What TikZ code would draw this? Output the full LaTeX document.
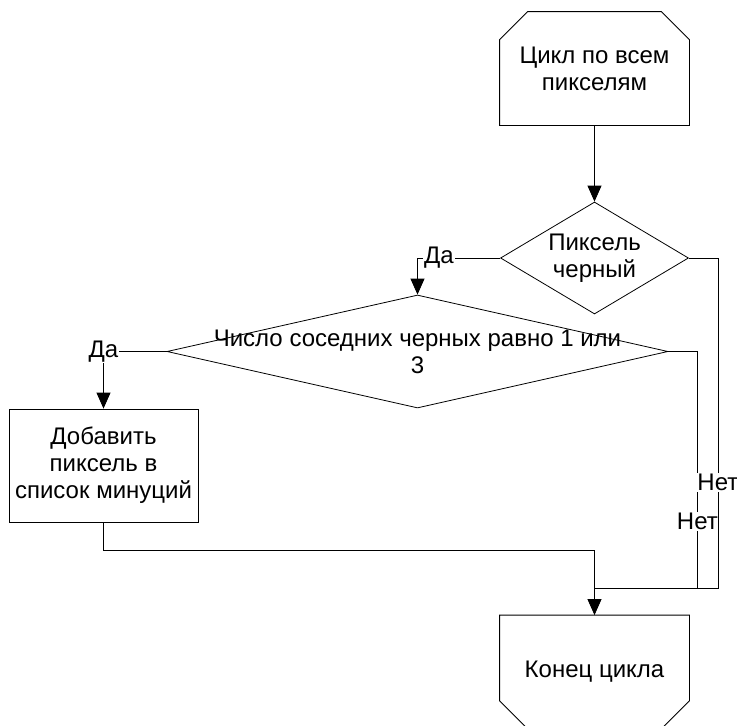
\documentclass[tikz,border=0pt]{standalone}
\usepackage{fontspec}
\setmainfont{Liberation Sans}
\usetikzlibrary{shapes.geometric,arrows.meta}

\begin{document}
\begin{tikzpicture}[x=1pt, y=-1pt, line width=0.8pt,
    every node/.style={font=\fontsize{24}{27}\selectfont},
    blk/.style={rectangle, minimum width=189pt, minimum height=113pt, align=center, inner sep=0pt},
    cond/.style={diamond, draw, aspect=1.7, inner sep=0pt, align=center},
    lbl/.style={fill=white, inner sep=1pt},
    flow/.style={-{Triangle[length=16pt,width=14pt]}}]
    \useasboundingbox (0,0) rectangle (737,726);

    \node[blk] (start) at (594.5,68.5) {Цикл по всем\\пикселям};
    \draw (start.south west) -- ([yshift=-28pt]start.north west) -- ([xshift=28pt]start.north west)
        -- ([xshift=-28pt]start.north east) -- ([yshift=-28pt]start.north east) -- (start.south east) -- cycle;

    \node[cond, minimum width=188pt, minimum height=112pt] (pix) at (594.5,258) {Пиксель\\черный};
    \node[cond, aspect=4.4, minimum width=501pt, minimum height=113pt] (nb) at (417.5,351.5)
        {\makebox[0pt]{Число соседних черных равно 1 или}\\3};

    \node[blk, draw] (add) at (103.5,465.5) {Добавить\\пиксель в\\список минуций};

    \node[blk] (fin) at (594.5,672) {Конец цикла};
    \draw (fin.north west) -- ([yshift=28pt]fin.south west) -- ([xshift=28pt]fin.south west)
        -- ([xshift=-28pt]fin.south east) -- ([yshift=28pt]fin.south east) -- (fin.north east) -- cycle;

    \coordinate (join) at (594.5,588);

    \draw[flow] (start) -- (pix);
    \draw[flow] (pix.west) -| node[lbl, pos=0.37] {Да} (nb.north);
    \draw[flow] (nb.west) -| node[lbl, pos=0.5] {Да} (add.north);
    \draw[flow] (add.south) -- ++(0,28) -| (fin.north);
    \draw (nb.east) -- ++(29,0) |- node[lbl, pos=0.36] {Нет} (join);
    \draw (pix.east) -- ++(29,0) |- node[lbl, pos=0.34] {Нет} (join);
\end{tikzpicture}
\end{document}
